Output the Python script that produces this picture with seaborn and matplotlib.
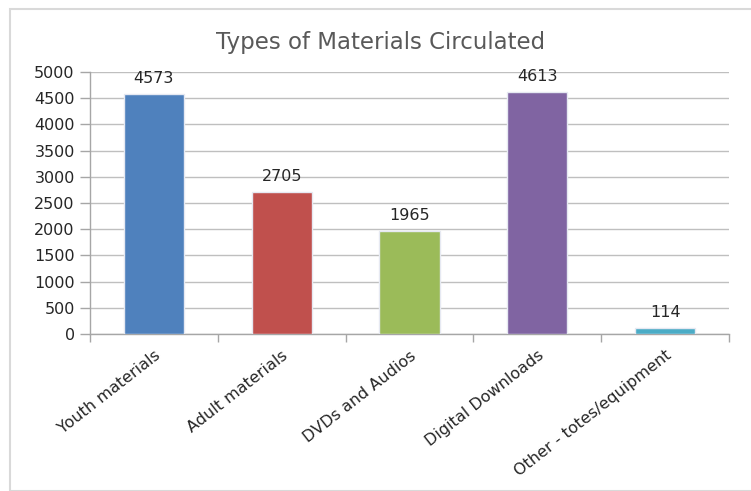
import matplotlib
matplotlib.use("Agg")
import matplotlib.pyplot as plt
import seaborn as sns
import pandas as pd
from matplotlib.patches import Rectangle

categories = ["Youth materials", "Adult materials", "DVDs and Audios",
              "Digital Downloads", "Other - totes/equipment"]
values = [4573, 2705, 1965, 4613, 114]
colors = ["#4F81BD", "#C0504D", "#9BBB59", "#8064A2", "#4BACC6"]
yticks = [0, 500, 1000, 1500, 2000, 2500, 3000, 3500, 4000, 4500, 5000]
title = "Types of Materials Circulated"

sns.set_style("white")
plt.rcParams['font.family'] = ['DejaVu Sans']

df = pd.DataFrame({"cat": categories, "val": values})

fig = plt.figure(figsize=(7.51, 4.91), dpi=100)
fig.patches.append(Rectangle((10/751, 0), 1.2, 1 - 9/491, transform=fig.transFigure,
                             fill=False, edgecolor="#D9D9D9", linewidth=1.5))
ax = fig.add_axes([90/751, 1 - 334/491, (729 - 90)/751, (334 - 72)/491])

sns.barplot(data=df, x="cat", y="val", hue="cat", palette=colors, legend=False,
            saturation=1, width=0.47, edgecolor="#E6E9F2", linewidth=1.0, ax=ax,
            zorder=3)

fs = 11.5
ax.set_ylim(0, 5000)
ax.set_xlim(-0.5, len(categories) - 0.5)
ax.set_yticks(yticks)
ax.set_yticklabels([str(v) for v in yticks], fontsize=fs, color="#262626")
ax.set_xticks(range(len(categories)))
ax.set_xticklabels(categories, rotation=38, ha="right", rotation_mode="anchor",
                   fontsize=fs, color="#262626")
ax.set_xticks([i - 0.5 for i in range(len(categories) + 1)], minor=True)
ax.tick_params(axis="x", which="major", bottom=True, length=0, pad=10)
ax.tick_params(axis="x", which="minor", bottom=True, length=6, color="#A6A6A6",
               width=1)
ax.tick_params(axis="y", which="major", left=True, length=7, color="#A6A6A6",
               width=1, pad=4)
ax.yaxis.grid(True, color="#BFBFBF", linewidth=1, zorder=0)
ax.set_axisbelow(True)
for s in ["top", "right"]:
    ax.spines[s].set_visible(False)
for s in ["left", "bottom"]:
    ax.spines[s].set_color("#A6A6A6")
    ax.spines[s].set_linewidth(1)
ax.set_xlabel("")
ax.set_ylabel("")

for i, v in enumerate(values):
    ax.annotate(str(v), (i, v), xytext=(0, 6), textcoords="offset points",
                ha="center", va="bottom", fontsize=fs, color="#262626")

fig.text(381/751, 1 - 42/491, title, ha="center", va="center", fontsize=16.5,
         color="#595959")

fig.savefig("out.png", dpi=100)
